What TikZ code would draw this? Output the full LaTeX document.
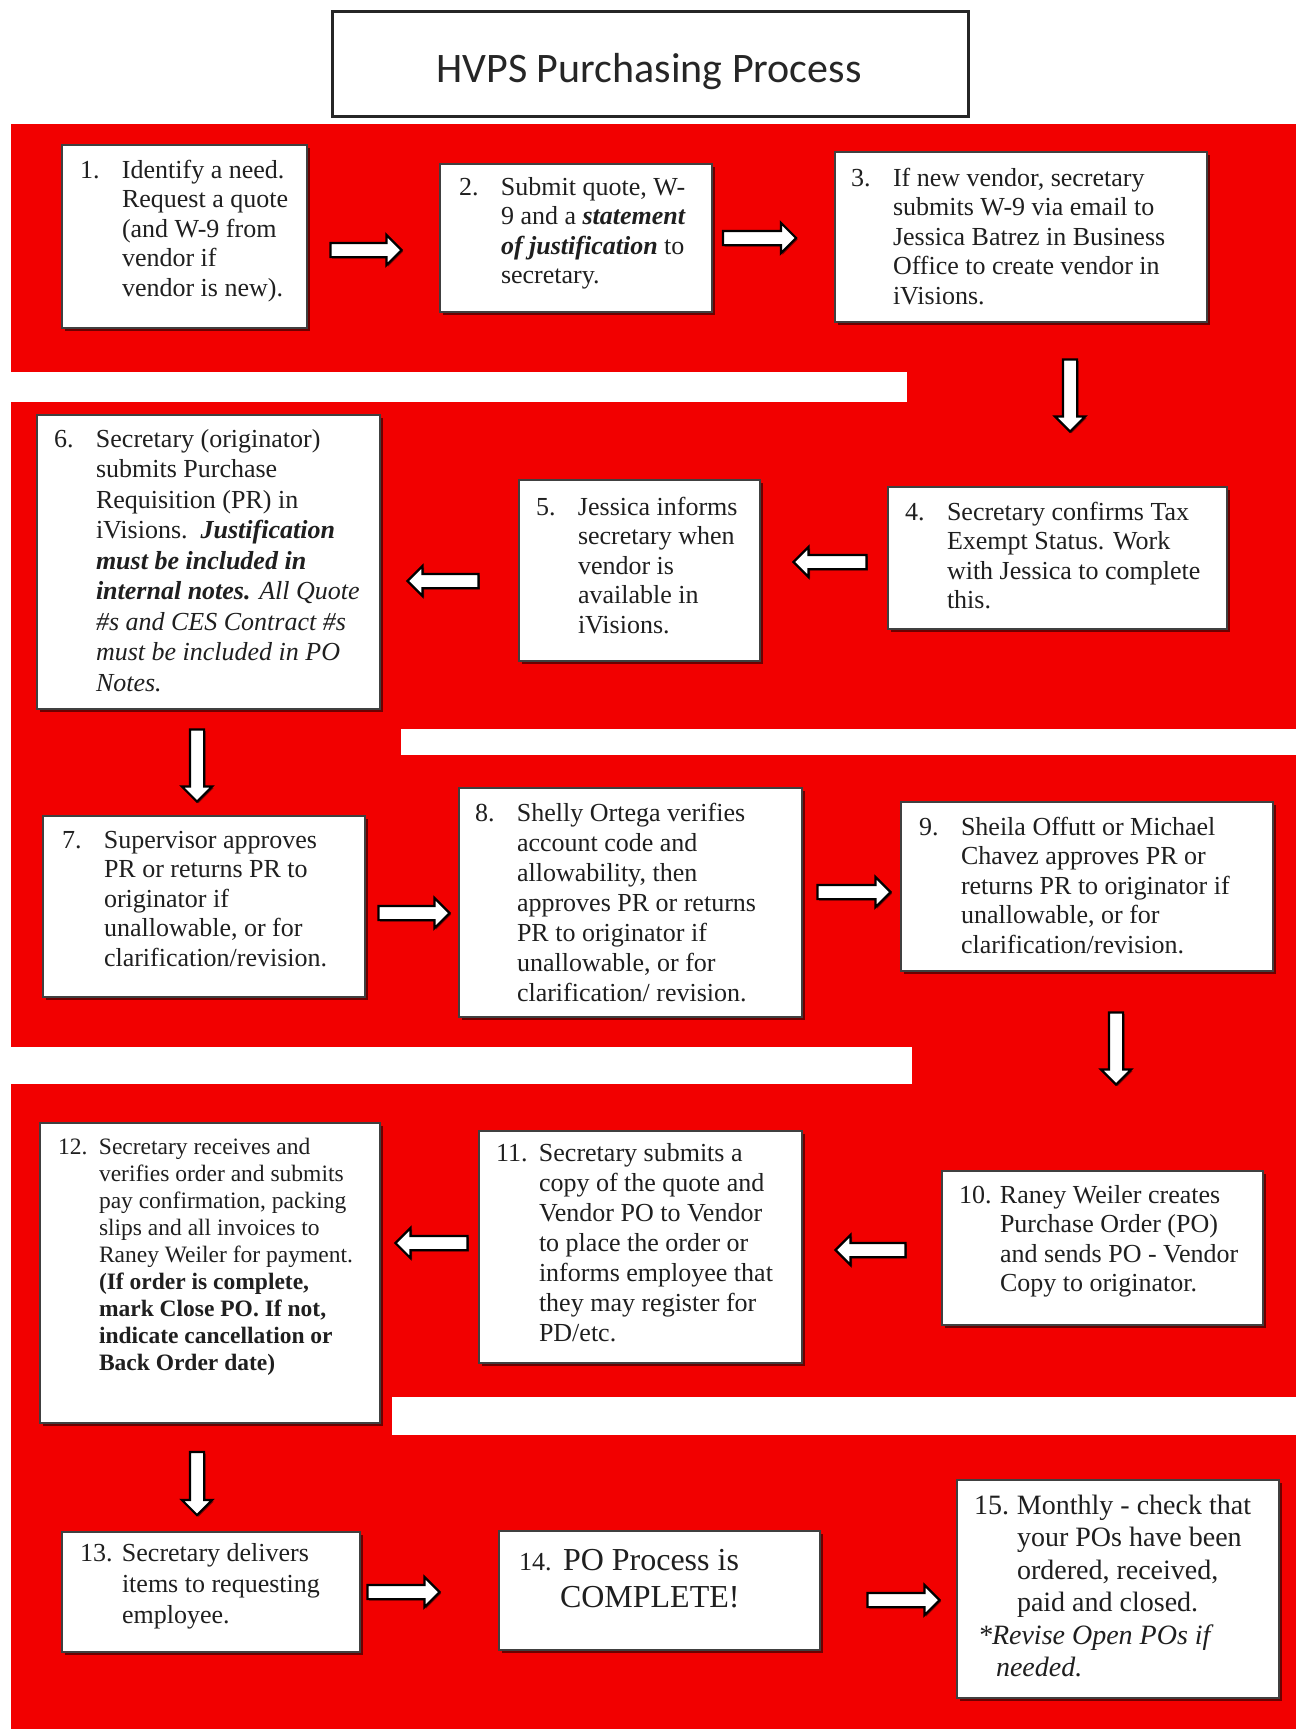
\documentclass[tikz,border=0pt]{standalone}
\usepackage{fontspec}
\setmainfont{Liberation Serif}
\newfontfamily\titlefont{Carlito}
\usetikzlibrary{shapes.arrows,shadows}
\definecolor{bgred}{RGB}{242,0,0}
\newcommand\nm[2][42pt]{\makebox[#1][l]{#2}}
\newcommand\shaft{\rule{0pt}{12pt}}
\tikzset{
  stepbox/.style={draw=black!75, line width=1.3pt, fill=white, inner sep=0pt, outer sep=0pt, anchor=north west,
    drop shadow={shadow xshift=2.5pt, shadow yshift=-2.5pt, fill=black, opacity=.55}},
  txt/.style={inner sep=0pt, outer sep=0pt, anchor=base west, text=black!88, font=\fontsize{26}{29.5}\selectfont},
  blockarrow/.style={single arrow, draw=black, line width=2.2pt, fill=white,
    single arrow head extend=8pt, single arrow tip angle=90, inner sep=0pt, outer sep=0pt,
    drop shadow={shadow xshift=1.5pt, shadow yshift=-1.5pt, fill=black, opacity=.5}},
  titlebox/.style={draw=black!85, line width=3pt, fill=white, inner sep=0pt, anchor=north west},
}
\begin{document}
\begin{tikzpicture}[x=1pt,y=-1pt]
\useasboundingbox (0,0) rectangle (1296,1729);
% background
\fill[bgred] (11,124) rectangle (1296,1729);
\fill[white] (0,372) rectangle (907,402);
\fill[white] (401,729) rectangle (1296,755);
\fill[white] (0,1047) rectangle (912,1084);
\fill[white] (392,1397) rectangle (1296,1435);
% title
\node[titlebox, minimum width=636pt, minimum height=105pt] (title) at (331,10) {};
\node[inner sep=0pt, anchor=base, text=black!85, font=\titlefont\fontsize{42}{50}\selectfont] (titletext) at (649,82) {HVPS Purchasing Process};
% boxes
\node[stepbox, minimum width=245pt, minimum height=183pt] (b1) at (62,145) {};
\node[stepbox, minimum width=272pt, minimum height=148pt] (b2) at (440,164) {};
\node[stepbox, minimum width=372pt, minimum height=170pt] (b3) at (835,152) {};
\node[stepbox, minimum width=339pt, minimum height=142pt] (b4) at (888,487) {};
\node[stepbox, minimum width=241pt, minimum height=181pt] (b5) at (519,480) {};
\node[stepbox, minimum width=343pt, minimum height=294pt] (b6) at (37,415) {};
\node[stepbox, minimum width=322pt, minimum height=181pt] (b7) at (43,816) {};
\node[stepbox, minimum width=343pt, minimum height=229pt] (b8) at (459,788) {};
\node[stepbox, minimum width=372pt, minimum height=169pt] (b9) at (901,802) {};
\node[stepbox, minimum width=321pt, minimum height=154pt] (b10) at (942,1171) {};
\node[stepbox, minimum width=323pt, minimum height=232pt] (b11) at (479,1131) {};
\node[stepbox, minimum width=340pt, minimum height=300pt] (b12) at (40,1123) {};
\node[stepbox, minimum width=298pt, minimum height=120pt] (b13) at (62,1532) {};
\node[stepbox, minimum width=321pt, minimum height=119pt] (b14) at (499,1531) {};
\node[stepbox, minimum width=322pt, minimum height=218pt] (b15) at (957,1480) {};
% texts
\node[txt] (t1) at (80,178) {\begin{tabular}[t]{@{}l@{}}
\nm{1.}Identify a need.\\ \nm{}Request a quote\\ \nm{}(and W-9 from\\ \nm{}vendor if\\ \nm{}vendor is new).\end{tabular}};
\node[txt] (t2) at (459,195) {\begin{tabular}[t]{@{}l@{}}
\nm{2.}Submit quote, W-\\ \nm{}9 and a \textbf{\textit{statement}}\\ \nm{}\textbf{\textit{of justification}} to\\ \nm{}secretary.\end{tabular}};
\node[txt] (t3) at (851,186) {\begin{tabular}[t]{@{}l@{}}
\nm{3.}If new vendor, secretary\\ \nm{}submits W-9 via email to\\ \nm{}Jessica Batrez in Business\\ \nm{}Office to create vendor in\\ \nm{}iVisions.\end{tabular}};
\node[txt] (t4) at (905,520) {\begin{tabular}[t]{@{}l@{}}
\nm{4.}Secretary confirms Tax\\ \nm{}Exempt Status. Work\\ \nm{}with Jessica to complete\\ \nm{}this.\end{tabular}};
\node[txt] (t5) at (536,515) {\begin{tabular}[t]{@{}l@{}}
\nm{5.}Jessica informs\\ \nm{}secretary when\\ \nm{}vendor is\\ \nm{}available in\\ \nm{}iVisions.\end{tabular}};
\node[txt, font=\fontsize{26}{30.5}\selectfont] (t6) at (54,447) {\begin{tabular}[t]{@{}l@{}}
\nm{6.}Secretary (originator)\\ \nm{}submits Purchase\\ \nm{}Requisition (PR) in\\ \nm{}iVisions.\ \ \textbf{\textit{Justification}}\\ \nm{}\textbf{\textit{must be included in}}\\ \nm{}\textbf{\textit{internal notes.}} \textit{All Quote}\\ \nm{}\textit{\#s and CES Contract \#s}\\ \nm{}\textit{must be included in PO}\\ \nm{}\textit{Notes.}\end{tabular}};
\node[txt] (t7) at (62,848) {\begin{tabular}[t]{@{}l@{}}
\nm{7.}Supervisor approves\\ \nm{}PR or returns PR to\\ \nm{}originator if\\ \nm{}unallowable, or for\\ \nm{}clarification/revision.\end{tabular}};
\node[txt, font=\fontsize{26}{30}\selectfont] (t8) at (475,821) {\begin{tabular}[t]{@{}l@{}}
\nm{8.}Shelly Ortega verifies\\ \nm{}account code and\\ \nm{}allowability, then\\ \nm{}approves PR or returns\\ \nm{}PR to originator if\\ \nm{}unallowable, or for\\ \nm{}clarification/ revision.\end{tabular}};
\node[txt] (t9) at (919,835) {\begin{tabular}[t]{@{}l@{}}
\nm{9.}Sheila Offutt or Michael\\ \nm{}Chavez approves PR or\\ \nm{}returns PR to originator if\\ \nm{}unallowable, or for\\ \nm{}clarification/revision.\end{tabular}};
\node[txt] (t10) at (959,1203) {\begin{tabular}[t]{@{}l@{}}
\nm[41pt]{10.}Raney Weiler creates\\ \nm[41pt]{}Purchase Order (PO)\\ \nm[41pt]{}and sends PO - Vendor\\ \nm[41pt]{}Copy to originator.\end{tabular}};
\node[txt, font=\fontsize{26}{30}\selectfont] (t11) at (496,1161) {\begin{tabular}[t]{@{}l@{}}
\nm[43pt]{11.}Secretary submits a\\ \nm[43pt]{}copy of the quote and\\ \nm[43pt]{}Vendor PO to Vendor\\ \nm[43pt]{}to place the order or\\ \nm[43pt]{}informs employee that\\ \nm[43pt]{}they may register for\\ \nm[43pt]{}PD/etc.\end{tabular}};
\node[txt, font=\fontsize{23.5}{27}\selectfont] (t12) at (58,1154) {\begin{tabular}[t]{@{}l@{}}
\nm[41pt]{12.}Secretary receives and\\ \nm[41pt]{}verifies order and submits\\ \nm[41pt]{}pay confirmation, packing\\ \nm[41pt]{}slips and all invoices to\\ \nm[41pt]{}Raney Weiler for payment.\\ \nm[41pt]{}\textbf{(If order is complete,}\\ \nm[41pt]{}\textbf{mark Close PO. If not,}\\ \nm[41pt]{}\textbf{indicate cancellation or}\\ \nm[41pt]{}\textbf{Back Order date)}\end{tabular}};
\node[txt, font=\fontsize{26}{31}\selectfont] (t13) at (80,1561) {\begin{tabular}[t]{@{}l@{}}
\nm{13.}Secretary delivers\\ \nm{}items to requesting\\ \nm{}employee.\end{tabular}};
\node[txt, font=\fontsize{32}{37}\selectfont] (t14) at (519,1570) {\begin{tabular}[t]{@{}l@{}}
\nm[44pt]{\fontsize{26}{30}\selectfont 14.}PO Process is\\ \nm[41pt]{}COMPLETE!\end{tabular}};
\node[txt, font=\fontsize{28}{32.5}\selectfont] (t15) at (974,1514) {\begin{tabular}[t]{@{}l@{}}
\nm[43pt]{15.}Monthly - check that\\ \nm[43pt]{}your POs have been\\ \nm[43pt]{}ordered, received,\\ \nm[43pt]{}paid and closed.\\ \hspace{4pt}\textit{*Revise Open POs if}\\ \hspace{22pt}\textit{needed.}\end{tabular}};
% block arrows
\node[blockarrow, minimum height=71pt] (a12) at (362.5,250) {\shaft};
\node[blockarrow, minimum height=73pt] (a23) at (756,238) {\shaft};
\node[blockarrow, minimum height=72pt, rotate=-90] (a34) at (1070,392) {\shaft};
\node[blockarrow, minimum height=73pt, rotate=180] (a45) at (833.5,562) {\shaft};
\node[blockarrow, minimum height=71pt, rotate=180] (a56) at (446.5,581) {\shaft};
\node[blockarrow, minimum height=72pt, rotate=-90] (a67) at (197,762) {\shaft};
\node[blockarrow, minimum height=71pt] (a78) at (410.5,913) {\shaft};
\node[blockarrow, minimum height=73pt] (a89) at (850.5,892) {\shaft};
\node[blockarrow, minimum height=72pt, rotate=-90] (a910) at (1116,1045) {\shaft};
\node[blockarrow, minimum height=70pt, rotate=180] (a1011) at (874,1250) {\shaft};
\node[blockarrow, minimum height=72pt, rotate=180] (a1112) at (435,1243) {\shaft};
\node[blockarrow, minimum height=63pt, rotate=-90] (a1213) at (197,1480) {\shaft};
\node[blockarrow, minimum height=72pt] (a1314) at (400,1592) {\shaft};
\node[blockarrow, minimum height=72pt] (a1415) at (900,1600) {\shaft};
\end{tikzpicture}
\end{document}
